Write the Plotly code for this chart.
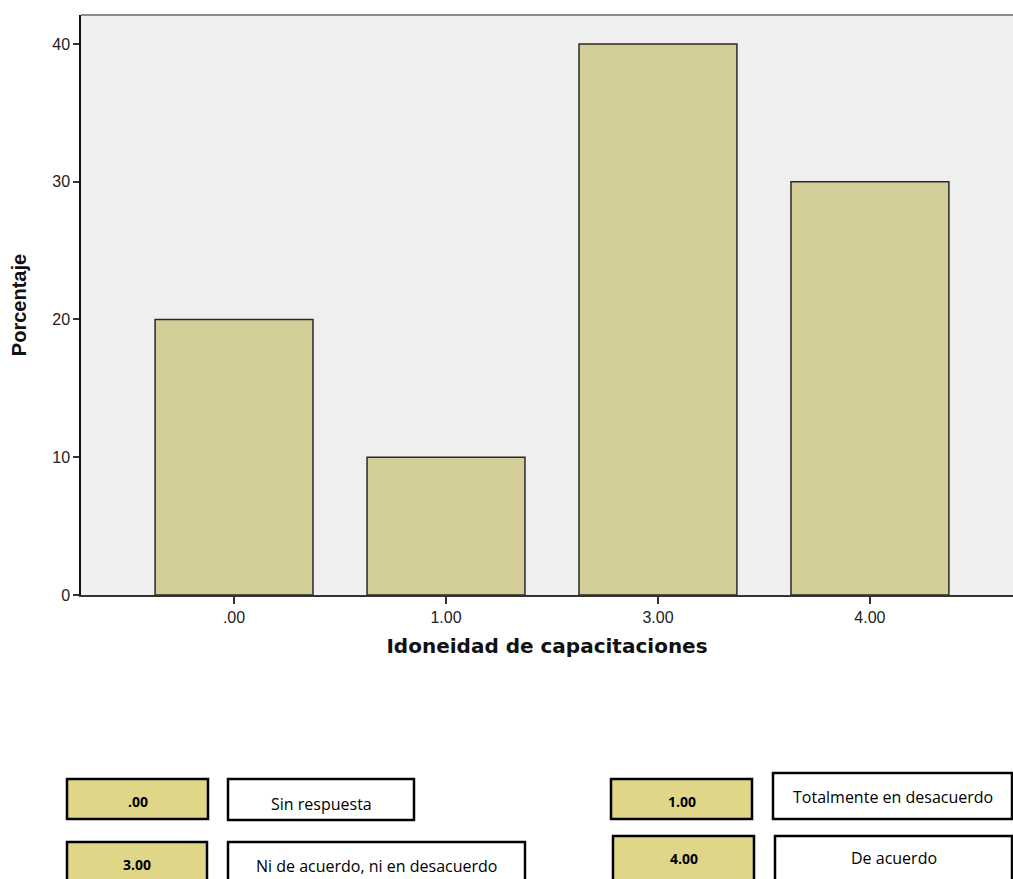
import plotly.graph_objects as go

categories = [".00", "1.00", "3.00", "4.00"]
percentages = [20, 10, 40, 30]
y_ticks = [0, 10, 20, 30, 40]

legend_codes = [".00", "1.00", "3.00", "4.00"]
legend_labels = ["Sin respuesta", "Totalmente en desacuerdo",
                 "Ni de acuerdo, ni en desacuerdo", "De acuerdo"]

W, H = 1013, 879
L, T, R, B = 81, 15, 0, 284
PW, PH = W - L - R, H - T - B

def px(x):
    return (x - L) / PW

def py(y):
    return (H - B - y) / PH

fig = go.Figure()
fig.add_trace(go.Bar(
    x=categories, y=percentages, width=0.745,
    marker=dict(color="#D3CE97", line=dict(color="#2a2a2a", width=1.5)),
    showlegend=False,
))

fig.update_layout(
    width=W, height=H,
    margin=dict(l=L, r=R, t=T, b=B),
    paper_bgcolor="white", plot_bgcolor="#EFEFEF",
    xaxis=dict(
        range=[-0.722, 3.675], type="category",
        showline=True, linecolor="#333333", linewidth=1.5,
        ticks="outside", ticklen=7, tickcolor="#333333", tickwidth=1.5,
        tickfont=dict(family="Liberation Sans, Arial", size=16, color="#222"),
        title=dict(text="<b>Idoneidad de capacitaciones</b>",
                   font=dict(family="DejaVu Sans", size=20, color="#111"),
                   standoff=14),
        showgrid=False, zeroline=False,
    ),
    yaxis=dict(
        range=[0, 42.1],
        tickvals=y_ticks,
        showline=True, linecolor="#111111", linewidth=1.5,
        ticks="outside", ticklen=6, tickcolor="#333333", tickwidth=1.5,
        tickfont=dict(family="Liberation Sans, Arial", size=16, color="#222"),
        title=dict(text="<b>Porcentaje</b>",
                   font=dict(family="Liberation Sans, Arial", size=20, color="#111"),
                   standoff=20),
        showgrid=False, zeroline=False,
    ),
)

shapes = []
annotations = []
# top border line of plot area
shapes.append(dict(type="line", xref="paper", yref="paper", x0=0, x1=1, y0=1, y1=1,
                   line=dict(color="#8C8C8C", width=2)))

# legend boxes: (x0, y0, x1, y1) in pixels
code_boxes = [(67, 779, 208, 819), (611, 779, 752, 819), (67, 842, 207, 885), (613, 836, 754, 885)]
code_text_y = [801, 801, 864, 858]
label_boxes = [(228, 779, 414, 820), (773, 773, 1012, 819), (228, 842, 525, 885), (775, 836, 1012, 885)]
label_text_y = [804, 797, 866, 858]

for i in range(4):
    x0, y0, x1, y1 = code_boxes[i]
    shapes.append(dict(type="rect", xref="paper", yref="paper",
                       x0=px(x0), x1=px(x1), y0=py(y1), y1=py(y0),
                       fillcolor="#DFD787", line=dict(color="black", width=2.5)))
    annotations.append(dict(xref="paper", yref="paper", x=px((x0 + x1) / 2), y=py(code_text_y[i]),
                            text="<b>" + legend_codes[i] + "</b>", showarrow=False,
                            font=dict(family="Open Sans, Liberation Sans", size=14, color="black"),
                            xanchor="center", yanchor="middle"))
    x0, y0, x1, y1 = label_boxes[i]
    shapes.append(dict(type="rect", xref="paper", yref="paper",
                       x0=px(x0), x1=px(x1), y0=py(y1), y1=py(y0),
                       fillcolor="white", line=dict(color="black", width=2.5)))
    annotations.append(dict(xref="paper", yref="paper", x=px((x0 + x1) / 2), y=py(label_text_y[i]),
                            text=legend_labels[i], showarrow=False,
                            font=dict(family="Open Sans, Liberation Sans", size=16, color="black"),
                            xanchor="center", yanchor="middle"))

fig.update_layout(shapes=shapes, annotations=annotations)
fig.write_html("out.html")
